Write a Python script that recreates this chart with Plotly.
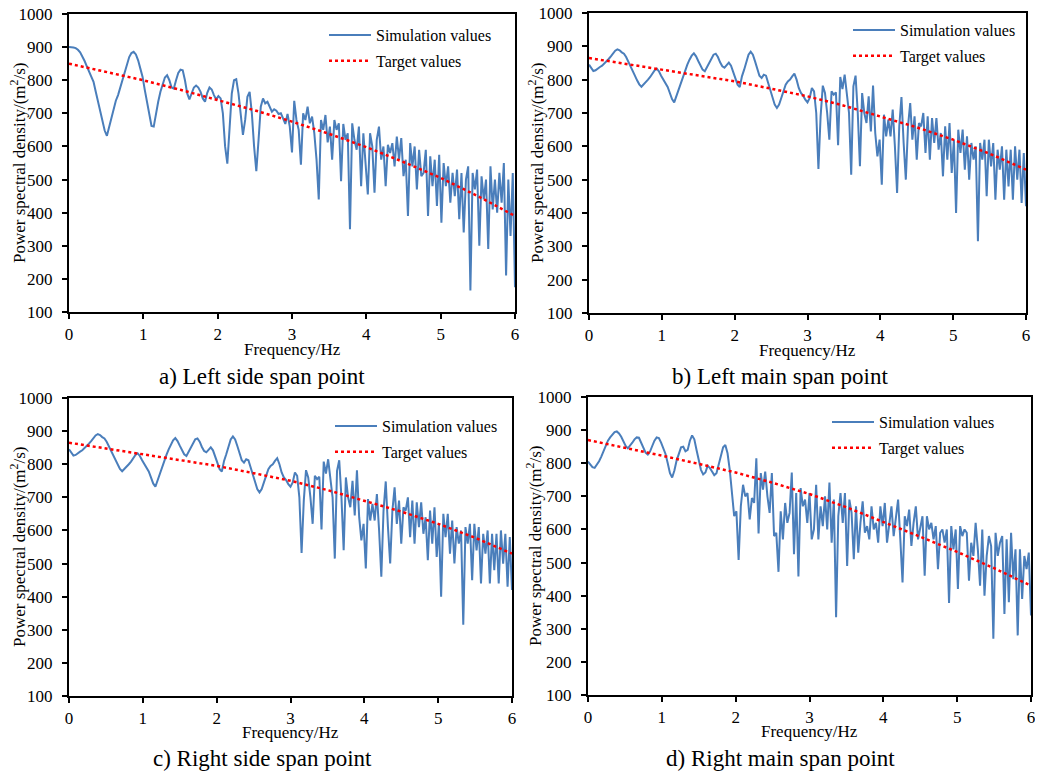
import plotly.graph_objects as go

# frequency grid (Hz) shared by the four simulated spectra
freq = [round(i * 0.03, 2) for i in range(201)]
target_freq = [0, 0.5, 1, 1.5, 2, 2.5, 3, 3.5, 4, 4.5, 5, 5.5, 6]

# a) left side span point
sim_left_side = [
    900, 900, 899, 897, 892, 884, 872, 858, 842, 826,
    812, 795, 765, 735, 705, 675, 648, 632, 660, 690,
    718, 738, 755, 778, 805, 830, 852, 870, 882, 886,
    878, 860, 835, 810, 770, 730, 690, 662, 660, 700,
    735, 765, 790, 808, 815, 800, 778, 775, 800, 822,
    832, 830, 800, 760, 742, 758, 778, 784, 778, 765,
    745, 735, 762, 778, 772, 755, 742, 752, 745, 700,
    600, 548, 660, 760, 800, 803, 760, 690, 635, 680,
    750, 765, 700, 600, 525, 620, 720, 745, 730, 735,
    718, 705, 712, 708, 698, 700, 685, 668, 698, 660,
    582, 738, 680, 650, 545, 700, 680, 720, 670, 690,
    640, 560, 440, 680, 650, 695, 612, 660, 560, 680,
    650, 670, 495, 668, 620, 640, 350, 670, 620, 590,
    660, 480, 640, 560, 455, 640, 600, 460, 620, 660,
    560, 600, 480, 605, 580, 610, 540, 630, 560, 625,
    510, 560, 390, 610, 540, 600, 470, 590, 510, 520,
    590, 390, 570, 480, 560, 420, 575, 370, 550, 480,
    540, 430, 520, 450, 530, 380, 520, 340, 500, 540,
    165, 520, 470, 530, 300, 510, 440, 500, 290, 540,
    410, 500, 400, 520, 430, 550, 210, 500, 330, 520,
    175,
]
target_left_side = [850, 826, 800, 771, 740, 709, 675, 638, 598, 553, 505, 450, 390]

# b) left main span point
sim_left_main = [
    845, 835, 826, 828, 834, 838, 842, 848, 855, 862,
    870, 880, 887, 891, 888, 882, 878, 868, 855, 840,
    826, 812, 798, 786, 779, 785, 793, 800, 808, 818,
    828, 833, 825, 812, 800, 790, 778, 760, 742, 732,
    752, 770, 790, 808, 828, 845, 860, 872, 879, 870,
    856, 843, 830, 825, 838, 852, 866, 875, 878, 868,
    852, 840, 836, 845, 851, 842, 825, 805, 785, 778,
    810, 830, 855, 875, 884, 875, 855, 832, 812, 805,
    815, 812, 790, 770, 745, 725, 715, 725, 745, 765,
    785, 795, 800, 810, 818, 800, 775, 760, 752, 740,
    732, 745, 775, 765, 700, 532, 690, 782, 760, 700,
    620, 765, 755, 762, 603, 808, 772, 815, 750, 700,
    515, 780, 812, 700, 540, 760, 700, 670, 750, 645,
    782, 640, 570, 620, 485, 695, 630, 680, 630, 710,
    600, 460, 660, 748, 610, 500, 660, 730, 620, 690,
    560, 670, 660, 700, 580, 690, 560, 685, 610, 685,
    590, 640, 510, 660, 560, 670, 520, 620, 400, 650,
    580, 650, 530, 630, 500, 610, 560, 600, 315, 610,
    560, 620, 450, 620, 540, 610, 440, 590, 530, 600,
    440, 590, 480, 590, 440, 600, 500, 590, 430, 580,
    420,
]
target_left_main = [865, 848, 830, 813, 795, 773, 750, 722, 690, 657, 620, 578, 530]

# c) right side span point (same curves as panel b in the source figure)
sim_right_side = list(sim_left_main)
target_right_side = list(target_left_main)

# d) right main span point
sim_right_main = [
    805, 797, 788, 786, 795, 806, 820, 836, 850, 868,
    878, 887, 894, 896, 890, 880, 866, 852, 845, 852,
    862, 872, 878, 877, 862, 846, 832, 826, 835, 852,
    868, 878, 876, 862, 845, 828, 800, 770, 757, 778,
    808, 832, 848, 850, 836, 840, 868, 884, 872, 840,
    808, 780, 766, 772, 792, 786, 775, 764, 770, 795,
    822, 848, 855, 830, 780, 720, 640, 655, 508, 670,
    735, 700, 710, 630, 695, 680, 815, 588, 770, 720,
    775, 700, 650, 770, 580, 590, 472, 655, 570, 680,
    620, 650, 772, 525, 710, 458, 725, 670, 690, 620,
    710, 570, 600, 735, 570, 670, 610, 700, 600, 742,
    560, 690, 335, 640, 710, 620, 710, 490, 690, 650,
    510, 670, 530, 620, 685, 590, 610, 570, 670, 600,
    620, 560, 670, 610, 680, 560, 620, 670, 580, 640,
    690, 570, 440, 640, 610, 660, 550, 620, 670, 570,
    600, 640, 460, 640, 600, 620, 570, 610, 480, 590,
    600, 560, 600, 378, 610, 540, 600, 420, 610, 580,
    600, 590, 445, 560, 520, 620, 540, 430, 600, 400,
    520, 580, 550, 270, 590, 520, 560, 580, 345, 570,
    380, 590, 450, 540, 280, 540, 390, 520, 480, 530,
    340,
]
target_right_main = [870, 847, 823, 798, 772, 741, 707, 667, 623, 578, 532, 483, 430]

captions = ["a) Left side span point", "b) Left main span point",
            "c) Right side span point", "d) Right main span point"]
sims = [sim_left_side, sim_left_main, sim_right_side, sim_right_main]
targets = [target_left_side, target_left_main, target_right_side, target_right_main]

# the page body keeps its 8px margin, so the figure is drawn 8px smaller
# and all positions below are given in window pixels
PAD = 8
W, H = 1043 - PAD, 773 - PAD
FONT = "Liberation Serif, Times New Roman, serif"


def fx(px):
    return (px - PAD) / W


def fy(py):
    return 1 - (py - PAD) / H


# pixel boxes of the four plot areas: left, right, top, bottom
boxes = [(69, 515, 14, 312), (589, 1026, 13, 313), (69, 512, 398, 696), (588, 1031, 397, 695)]
legend_pos = [(324, 18), (848, 13), (330, 409), (827, 405)]
ytitle_x = [18, 536, 18, 534]
xtitle_y = [349, 350, 732, 731]
caption_pos = [(262, 376), (780, 376), (262, 758), (780, 758)]

fig = go.Figure()
layout = dict(width=W, height=H, margin=dict(l=0, r=0, t=0, b=0, autoexpand=False),
              paper_bgcolor="white", plot_bgcolor="white",
              font=dict(family=FONT, color="black"), annotations=[])

for k in range(4):
    n = "" if k == 0 else str(k + 1)
    leg = "legend" + n
    fig.add_trace(go.Scatter(x=freq, y=sims[k], mode="lines", name="Simulation values",
                             line=dict(color="#4A7EBB", width=2),
                             xaxis="x" + n, yaxis="y" + n, legend=leg, legendgroup="sim" + n))
    fig.add_trace(go.Scatter(x=target_freq, y=targets[k], mode="lines", name="Target values",
                             line=dict(color="#FF0000", width=2.5, dash="dot"),
                             xaxis="x" + n, yaxis="y" + n, legend=leg, legendgroup="tar" + n))

    l, r, t, b = boxes[k]
    axis_common = dict(showline=True, linecolor="black", linewidth=2, mirror=True,
                       ticks="outside", ticklen=5, tickwidth=2, tickcolor="black",
                       showgrid=False, zeroline=False, automargin=False,
                       ticklabeloverflow="allow",
                       tickfont=dict(family=FONT, size=17, color="black"))
    layout["xaxis" + n] = dict(domain=[fx(l), fx(r)], range=[0, 6], dtick=1, tick0=0,
                               anchor="y" + n, ticklabelstandoff=1, **axis_common)
    layout["yaxis" + n] = dict(domain=[fy(b), fy(t)], range=[100, 1000], dtick=100, tick0=100,
                               anchor="x" + n, ticklabelstandoff=6, **axis_common)

    lx, ly = legend_pos[k]
    layout[leg] = dict(x=fx(lx), y=fy(ly), xanchor="left", yanchor="top",
                       bgcolor="rgba(0,0,0,0)", font=dict(family=FONT, size=16, color="black"),
                       tracegroupgap=2, itemwidth=42)

    cx = (l + r) / 2
    cy = (t + b) / 2
    layout["annotations"] += [
        dict(text="Frequency/Hz", x=fx(cx), y=fy(xtitle_y[k]), xref="paper", yref="paper",
             showarrow=False, xanchor="center", yanchor="middle",
             font=dict(family=FONT, size=17, color="black")),
        dict(text="Power spectral density/(m<sup>2</sup>/s)", x=fx(ytitle_x[k]), y=fy(cy),
             xref="paper", yref="paper", showarrow=False, textangle=-90,
             xanchor="center", yanchor="middle", font=dict(family=FONT, size=17, color="black")),
        dict(text=captions[k], x=fx(caption_pos[k][0]), y=fy(caption_pos[k][1]),
             xref="paper", yref="paper", showarrow=False, xanchor="center", yanchor="middle",
             font=dict(family=FONT, size=23, color="black")),
    ]

fig.update_layout(**layout)
fig.write_html("out.html")
